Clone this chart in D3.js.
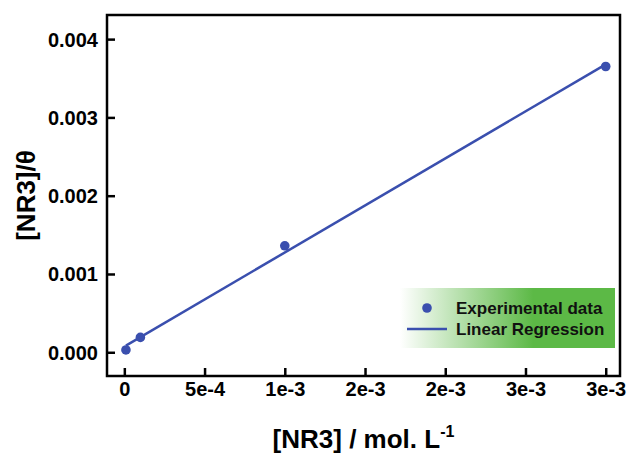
<!DOCTYPE html>
<html>
<head>
<meta charset="utf-8">
<script src="https://cdn.jsdelivr.net/npm/d3@7"></script>
<style>
  body { margin: 0; background: #fff; }
  text { font-family: "Liberation Sans", Arial, sans-serif; font-weight: bold; }
</style>
</head>
<body>
<svg id="chart" width="627" height="454"></svg>
<script>
// data
const concNR3 = [0.00001, 0.0001, 0.001, 0.003];
const ratioTheta = [0.00003, 0.00019, 0.00136, 0.00365];

const xTickValues = [0, 0.0005, 0.001, 0.0015, 0.002, 0.0025, 0.003];
const xTickLabels = ["0", "5e-4", "1e-3", "2e-3", "2e-3", "3e-3", "3e-3"];
const yTickValues = [0, 0.001, 0.002, 0.003, 0.004];
const yTickLabels = ["0.000", "0.001", "0.002", "0.003", "0.004"];

const legendLabels = ["Experimental data", "Linear Regression"];

const W = 627, H = 454;
const margin = {top: 15, right: 7, bottom: 78, left: 107};
const blue = "#3a4fae";
const green = "#5cb946";

const svg = d3.select("#chart");

const x = d3.scaleLinear()
    .domain([-0.000108, 0.003089])
    .range([margin.left, W - margin.right]);
const y = d3.scaleLinear()
    .domain([-0.000303, 0.004308])
    .range([H - margin.bottom, margin.top]);

// least squares fit
function linReg(xs, ys){
    let mx = d3.mean(xs), my = d3.mean(ys);
    let sxy = 0, sxx = 0;
    for (let i = 0; i < xs.length; i++) {
        sxy += (xs[i] - mx) * (ys[i] - my);
        sxx += (xs[i] - mx) * (xs[i] - mx);
    }
    let slope = sxy / sxx;
    return {slope: slope, intercept: my - slope * mx};
}
const fit = linReg(concNR3, ratioTheta);
const fitX = d3.extent(concNR3);

// axes, ticks inward
const xAxis = svg.append("g")
    .attr("transform", "translate(0," + (H - margin.bottom) + ")")
    .call(d3.axisBottom(x).tickValues(xTickValues)
        .tickSize(-8).tickPadding(10)
        .tickFormat((d, i) => xTickLabels[i]));
const yAxis = svg.append("g")
    .attr("transform", "translate(" + margin.left + ",0)")
    .call(d3.axisLeft(y).tickValues(yTickValues)
        .tickSize(-8).tickPadding(9)
        .tickFormat((d, i) => yTickLabels[i]));

[xAxis, yAxis].forEach(g => {
    g.select(".domain").remove();
    g.selectAll(".tick line").attr("stroke", "#000").attr("stroke-width", 2.5);
    g.selectAll(".tick text")
        .attr("fill", "#000")
        .style("font-size", "20px")
        .style("font-family", "'Liberation Sans', Arial, sans-serif")
        .style("font-weight", "bold");
});
xAxis.selectAll(".tick text").attr("dy", null).attr("y", 20);
yAxis.selectAll(".tick text").attr("dy", "0.35em").attr("x", -9);

// frame
svg.append("rect")
    .attr("x", margin.left)
    .attr("y", margin.top)
    .attr("width", W - margin.left - margin.right)
    .attr("height", H - margin.top - margin.bottom)
    .attr("fill", "none")
    .attr("stroke", "#000")
    .attr("stroke-width", 2.5);

// regression line
svg.append("line")
    .attr("x1", x(fitX[0]))
    .attr("y1", y(fit.intercept + fit.slope * fitX[0]))
    .attr("x2", x(fitX[1]))
    .attr("y2", y(fit.intercept + fit.slope * fitX[1]))
    .attr("stroke", blue)
    .attr("stroke-width", 2.5);

// points
svg.selectAll("circle.pt")
    .data(concNR3)
    .enter().append("circle")
    .attr("class", "pt")
    .attr("cx", d => x(d))
    .attr("cy", (d, i) => y(ratioTheta[i]))
    .attr("r", 4.8)
    .attr("fill", blue);

// legend
const grad = svg.append("defs").append("linearGradient")
    .attr("id", "lg").attr("x1", "0%").attr("x2", "100%");
grad.append("stop").attr("offset", "0%").attr("stop-color", "#ffffff");
grad.append("stop").attr("offset", "62%").attr("stop-color", green);
grad.append("stop").attr("offset", "100%").attr("stop-color", green);

const leg = svg.append("g").attr("transform", "translate(400,288)");
leg.append("rect")
    .attr("width", 215).attr("height", 60)
    .attr("fill", "url(#lg)");
leg.append("circle").attr("cx", 27).attr("cy", 20).attr("r", 4.8).attr("fill", blue);
leg.append("line").attr("x1", 7).attr("x2", 47).attr("y1", 41).attr("y2", 41)
    .attr("stroke", blue).attr("stroke-width", 2.5);
leg.selectAll("text.lg")
    .data(legendLabels)
    .enter().append("text")
    .attr("class", "lg")
    .attr("x", 56)
    .attr("y", (d, i) => 26 + i * 21)
    .attr("fill", "#111")
    .style("font-size", "17px")
    .text(d => d);

// axis titles
const xt = svg.append("text")
    .attr("x", (margin.left + W - margin.right) / 2)
    .attr("y", 448)
    .attr("text-anchor", "middle")
    .style("font-size", "26px")
    .attr("fill", "#000");
xt.append("tspan").text("[NR3] / mol. L");
xt.append("tspan").attr("dy", -11).style("font-size", "16px").text("-1");

svg.append("text")
    .attr("transform", "translate(35," + ((margin.top + H - margin.bottom) / 2) + ") rotate(-90)")
    .attr("text-anchor", "middle")
    .style("font-size", "26px")
    .attr("fill", "#000")
    .text("[NR3]/θ");
</script>
</body>
</html>
